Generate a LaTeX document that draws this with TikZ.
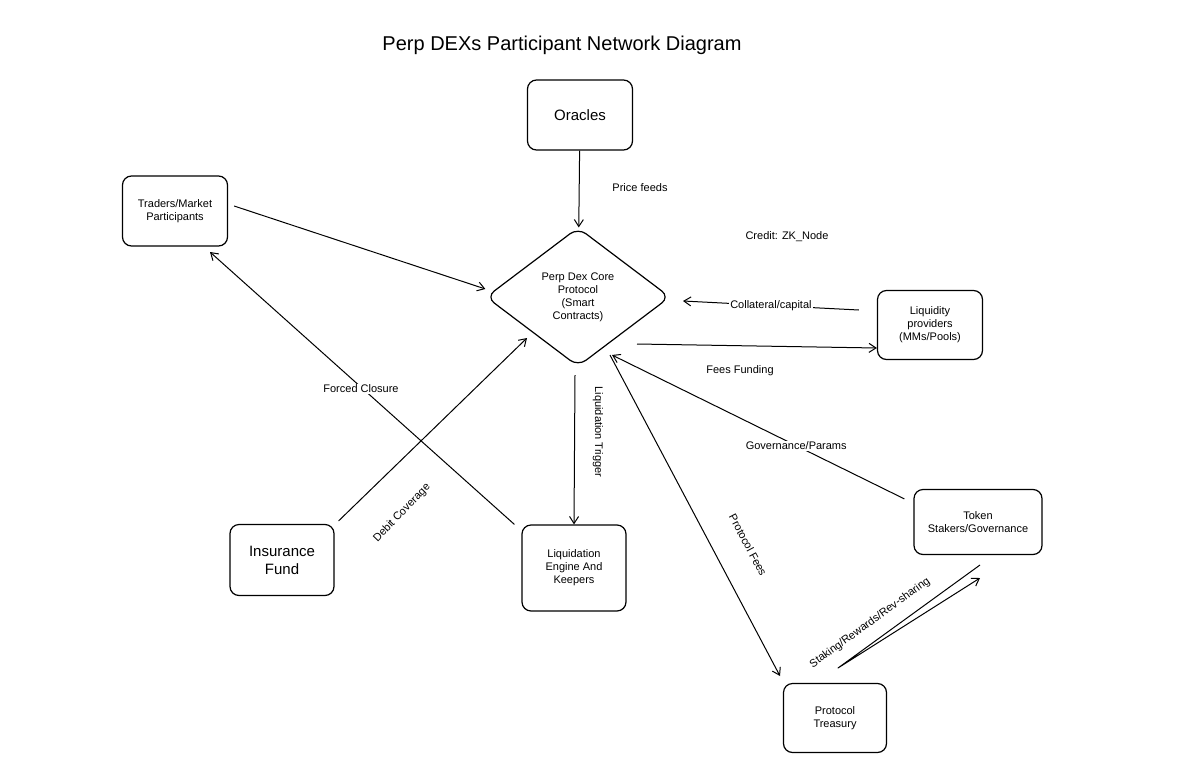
\documentclass[tikz,border=0pt]{standalone}
\usepackage{fontspec}
\setmainfont{Liberation Sans}
\usetikzlibrary{shapes.geometric,arrows.meta}
\begin{document}
\begin{tikzpicture}[x=1pt,y=-1pt,
  box/.style={draw,line width=1.2pt,rounded corners=9pt,align=center,font=\fontsize{11}{13}\selectfont},
  big/.style={font=\fontsize{15}{18}\selectfont},
  arr/.style={-{Straight Barb[length=7pt,width=9pt]},line width=1pt},
  lbl/.style={font=\fontsize{11}{13}\selectfont},
  wl/.style={lbl,fill=white,inner sep=1pt}]
\useasboundingbox (0,0) rectangle (1200,761);
\node[font=\fontsize{20}{24}\selectfont] (title) at (562,45) {Perp DEXs Participant Network Diagram};
\node[box,big,minimum width=105pt,minimum height=70pt] (or) at (580,115) {Oracles};
\node[box,minimum width=105pt,minimum height=70pt] (tr) at (175,211) {Traders/Market\\Participants};
\node[draw,line width=1.2pt,diamond,rounded corners=10pt,aspect=1.32,minimum width=184pt,minimum height=139pt,inner sep=0pt,align=center,font=\fontsize{11}{13}\selectfont] (core) at (578,297) {Perp Dex Core\\Protocol\\(Smart\\Contracts)};
\node[box,minimum width=105pt,minimum height=69pt] (lp) at (930,325) {Liquidity\\providers\\(MMs/Pools)};
\node[box,big,minimum width=104pt,minimum height=71pt] (ins) at (282,560) {Insurance\\Fund};
\node[box,minimum width=104pt,minimum height=86pt] (liq) at (574,568) {Liquidation\\Engine And\\Keepers};
\node[box,minimum width=128pt,minimum height=65pt] (tok) at (978,522) {Token\\Stakers/Governance};
\node[box,minimum width=103pt,minimum height=69pt] (trs) at (835,718) {Protocol\\Treasury};
\node[lbl] (credit) at (787,237) {Credit: ZK\_Node};

\draw[arr] (or) -- (core);
\node[lbl] (pf) at (640,188) {Price feeds};
\draw[arr] (tr.east) ++(6,-5) coordinate (a1) (a1) -- (core.west |- 0,289) ;
\draw[arr] (lp.west) ++(-18,-15) coordinate (a2) (a2) -- node[wl] {Collateral/capital} (683,301);
\draw[arr] (637,344) -- (lp.west |- 0,348);
\node[lbl] (ff) at (740,371) {Fees Funding};
\draw[arr] (tok.north west) ++(-9,10) coordinate (a3) (a3) -- node[wl,pos=0.37] {Governance/Params} (612,355);
\draw[arr] (575,375) -- (liq.north);
\node[lbl,rotate=-90] (lt) at (598,432) {Liquidation Trigger};
\draw[arr] (liq.north west) ++(-7,0) coordinate (a4) (a4) -- (210,252);
\node[wl] (fc) at (361,389) {Forced Closure};
\draw[arr] (ins.north east) ++(4,-3) coordinate (a5) (a5) -- (527,338);
\node[lbl,rotate=46] (dc) at (402,513) {Debit Coverage};
\draw[arr] (610,355) -- (780,676);
\node[lbl,rotate=-62] (pfe) at (748,545) {Protocol Fees};
\coordinate (t1) at (980,565);
\coordinate (t2) at (838,668);
\coordinate (t3) at (980,578);
\draw[arr,line join=round] (t1) -- (t2) -- (t3);
\node[lbl,rotate=36] (srr) at (870,623) {Staking/Rewards/Rev-sharing};
\end{tikzpicture}
\end{document}
